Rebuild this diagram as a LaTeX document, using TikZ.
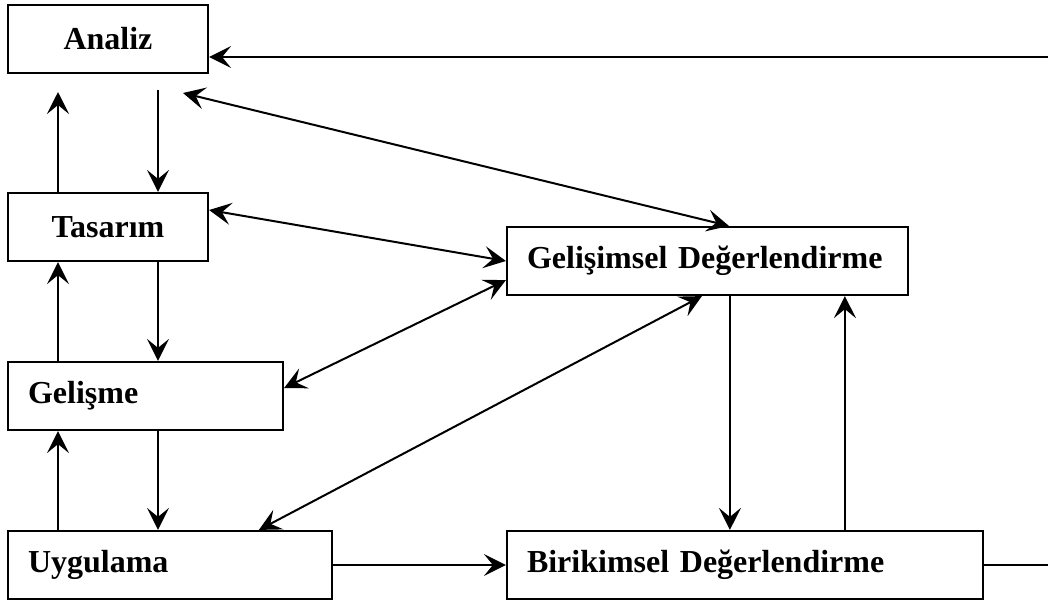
\documentclass[tikz,border=0pt]{standalone}
\usepackage{fontspec}
\setmainfont{Liberation Serif}
\usetikzlibrary{arrows.meta,calc}
\begin{document}
\begin{tikzpicture}[x=1pt,y=-1pt,
  box/.style={draw,line width=2.2pt,minimum height=68pt,inner sep=0pt,font=\fontsize{32}{36}\selectfont\bfseries},
  lbox/.style={box,align=left,text width=#1},
  tip/.style={},
  arr/.style={line width=2pt,-{Stealth[length=22pt,width=22pt,inset=9pt]}},
  darr/.style={line width=2pt,{Stealth[length=22pt,width=22pt,inset=9pt]}-{Stealth[length=22pt,width=22pt,inset=9pt]}},
  ln/.style={line width=2pt}]
\useasboundingbox (0,0) rectangle (1048,603);
\node[box,minimum width=200pt] (A) at (108,39) {Analiz};
\node[box,minimum width=200pt] (T) at (108,227) {Tasarım};
\node[lbox=235pt,minimum width=275pt] (G) at (145.5,396) {Gelişme};
\node[lbox=284pt,minimum width=324pt] (U) at (170,565) {Uygulama};
\node[lbox=361pt,minimum width=401pt] (GD) at (707.5,261) {Gelişimsel Değerlendirme};
\node[lbox=436pt,minimum width=476pt] (BD) at (745,565) {Birikimsel Değerlendirme};
\coordinate (x1) at (158,0);
\coordinate (x0) at (58,0);
\coordinate (a1) at (158,90);
\coordinate (a2) at (58,92);
\coordinate (a3) at (183,93);
\coordinate (r1) at (1048,57);
% left column
\draw[arr] (a1) -- (T.north -| x1);
\draw[arr] (T.north -| x0) -- (a2);
\draw[arr] (T.south -| x1) -- (G.north -| x1);
\draw[arr] (G.north -| x0) -- (T.south -| x0);
\draw[arr] (G.south -| x1) -- (U.north -| x1);
\draw[arr] (U.north -| x0) -- (G.south -| x0);
% outer loop
\draw[arr] (r1) -- (r1 -| A.east);
\draw[ln] (BD.east) -- (BD.east -| r1);
\draw[arr] (U.east) -- (BD.west);
% double arrows
\draw[darr] (a3) -- ($(GD.north west)+(223,0)$);
\draw[darr] ($(T.east)+(0,-17)$) -- (GD.west);
\draw[darr] ($(G.east)+(0,-8)$) -- ($(GD.south west)+(0,-16)$);
\draw[darr] ($(U.north west)+(252,0)$) -- ($(GD.south west)+(196,0)$);
% right column
\draw[arr] ($(GD.south west)+(224,0)$) -- ($(BD.north west)+(224,0)$);
\draw[arr] ($(BD.north west)+(339,0)$) -- ($(GD.south west)+(339,0)$);
\end{tikzpicture}
\end{document}
